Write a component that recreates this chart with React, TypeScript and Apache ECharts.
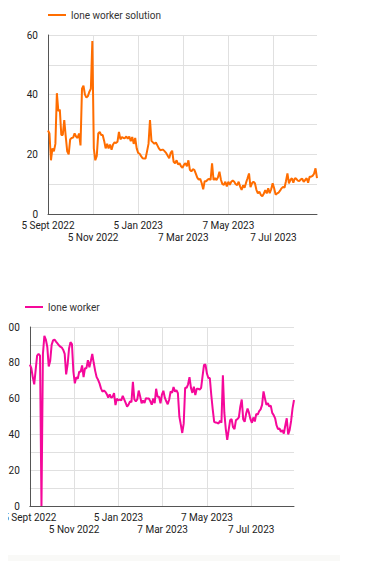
import React, { useEffect, useRef } from 'react';
import * as echarts from 'echarts';

const START_UTC = Date.UTC(2022, 8, 5);
const DAY_COUNT = 365;
const SAMPLE_STEP = 2;
const LABEL_EVERY = 61;
const MONTHS = ['Jan', 'Feb', 'Mar', 'Apr', 'May', 'Jun', 'Jul', 'Aug', 'Sept', 'Oct', 'Nov', 'Dec'];

const solutionName = 'lone worker solution';
const workerName = 'lone worker';
const solutionMax = 60;
const workerMax = 100;
const yMinorStep = 10;
const yLabelStep = 20;

// lone worker solution, one value every 2 days from 5 Sept 2022
const solutionValues = [
  28, 27, 18, 22, 21, 23.5, 40.5, 34.5, 35, 26.5,
  26.5, 31.5, 26, 21, 20, 25, 25.5, 25.6, 27, 26,
  25.5, 27, 23, 42, 43, 40, 39, 39.5, 41, 42,
  58, 22, 18, 19.5, 27, 27.5, 26.5, 26.5, 24.5, 22,
  23.5, 22, 23.3, 21.5, 23.3, 24, 23.8, 24.2, 27.5, 25,
  25.8, 25.5, 25.4, 26, 25.2, 26, 24.4, 25.8, 23.5, 25.5,
  22, 20.5, 20.2, 19.4, 18.7, 18.6, 18.6, 21, 23.5, 31.5,
  24.5, 24, 23.5, 24, 23, 22, 21.4, 21.5, 21.5, 21,
  20.4, 19.5, 18.7, 20.5, 21.2, 17.5, 17, 18, 16.6, 17,
  16, 15.5, 16.5, 17, 16, 18, 14.8, 14.3, 15, 14.8,
  13.5, 12.2, 11.5, 11.8, 10.3, 8.3, 11, 11, 11.5, 11.8,
  11.4, 17, 11.4, 12, 11.4, 12.3, 14.2, 11.5, 10, 9.8,
  10.8, 9.2, 10.8, 9.8, 10.8, 11.2, 10.8, 10, 9.7, 10.8,
  9.2, 8.1, 9.6, 8.8, 10.5, 12, 13.6, 9, 10.3, 10.8,
  10.3, 8.1, 6.9, 7.5, 6.4, 6, 6.8, 8, 6.9, 8.6,
  7, 8.3, 10.3, 8.6, 6.5, 6.9, 7.2, 7.8, 8.6, 9.1,
  8.8, 11, 13.6, 10.3, 11.4, 12, 10.5, 12, 11.8, 11.2,
  11, 11.6, 11.8, 10.8, 11.4, 12, 10.5, 12.5, 12.5, 12.8,
  13.5, 15.3, 12,
];

// lone worker, one value every 2 days from 5 Sept 2022
const workerValues = [
  79, 77, 72, 68, 76, 84, 85, 84, 0, 85,
  95, 93, 89, 78, 81, 90, 92.5, 93, 91.8, 90.8,
  89.8, 89, 88.5, 87.2, 85, 73.5, 79, 88, 91.5, 90.5,
  75, 68.5, 72, 71, 75, 75, 78.5, 72, 77, 77,
  81.5, 77.5, 81, 85, 80, 75.5, 72, 70.5, 68.5, 65.7,
  63.9, 64.5, 63.8, 62.5, 60.6, 62.4, 60.6, 61, 63, 56.4,
  60, 59, 59.5, 59, 61.5, 59.6, 57.6, 55.5, 56.6, 58.5,
  58, 69.4, 59.5, 58.5, 59.5, 64.5, 61.2, 57.4, 59, 57.6,
  60.3, 60, 60, 58.5, 56.6, 60, 57.4, 65.5, 61, 61,
  57.4, 62.2, 64.4, 60.5, 58.5, 56.8, 59.5, 64, 63.3, 66.5,
  63.9, 64.7, 63, 50, 45.5, 40.8, 46, 66, 66, 68,
  72, 66, 63.2, 66.7, 62, 65.5, 65.5, 65, 66, 72.5,
  78.8, 79, 74, 71.5, 71.5, 62, 54, 47, 46.6, 46.5,
  46, 47.6, 46.5, 73, 52, 43, 37, 42.5, 48, 48.5,
  44, 43, 48, 48.5, 49.5, 55.5, 59.5, 48.5, 47, 51.5,
  54.5, 52, 48.5, 46.5, 49.5, 47.2, 51.5, 51, 53, 54,
  56.5, 64, 60, 56.5, 57.4, 55.6, 56, 52, 50.8, 49,
  45, 43, 43.3, 41.5, 42.3, 40.5, 45, 49, 40, 42.5,
  47.5, 54.5, 59.2,
];

const dayLabels: string[] = Array.from({ length: DAY_COUNT }, (_, i) => {
  const d = new Date(START_UTC + i * 86400000);
  return `${d.getUTCDate()} ${MONTHS[d.getUTCMonth()]} ${d.getUTCFullYear()}`;
});

const FONT = 'Roboto, Arial, sans-serif';
const LABEL_STYLE = { fontSize: 10, color: '#222', fontFamily: FONT };

function makeOption(name: string, values: number[], color: string, max: number, legendTop: number, gridTop: number, gridLeft: number) {
  return {
    animation: false,
    textStyle: { fontFamily: FONT },
    legend: {
      left: gridLeft,
      top: legendTop,
      padding: 0,
      itemWidth: 18,
      itemHeight: 2,
      data: [{ name, icon: 'rect' }],
      textStyle: { fontSize: 10, color: '#333', fontFamily: FONT },
    },
    grid: { left: gridLeft, top: gridTop, width: 269, height: 179, containLabel: false },
    xAxis: [
      {
        type: 'category',
        data: dayLabels,
        boundaryGap: false,
        position: 'bottom',
        axisLine: { show: true, lineStyle: { color: '#555', width: 1 } },
        axisTick: { show: false },
        axisLabel: {
          ...LABEL_STYLE,
          margin: 6,
          interval: (i: number) => i % (2 * LABEL_EVERY) === 0,
        },
        splitLine: { show: true, interval: LABEL_EVERY - 1, lineStyle: { color: '#e0e0e0', width: 1 } },
      },
      {
        type: 'category',
        data: dayLabels,
        boundaryGap: false,
        position: 'bottom',
        axisLine: { show: false },
        axisTick: { show: false },
        splitLine: { show: false },
        axisLabel: {
          ...LABEL_STYLE,
          margin: 18,
          interval: (i: number) => i % (2 * LABEL_EVERY) === LABEL_EVERY,
        },
      },
    ],
    yAxis: {
      type: 'value',
      min: 0,
      max,
      interval: yMinorStep,
      axisLine: { show: true, lineStyle: { color: '#555', width: 1 } },
      axisTick: { show: false },
      axisLabel: {
        ...LABEL_STYLE,
        margin: 10,
        formatter: (v: number) => (v % yLabelStep === 0 ? String(v) : ''),
      },
      splitLine: { show: true, lineStyle: { color: '#e0e0e0', width: 1 } },
    },
    series: [
      {
        name,
        type: 'line',
        xAxisIndex: 0,
        symbol: 'none',
        color,
        lineStyle: { color, width: 2 },
        data: values.map((v, i) => [i * SAMPLE_STEP, v]),
      },
    ],
  };
}

function Chart({ option, style }: { option: any; style: React.CSSProperties }) {
  const ref = useRef<HTMLDivElement>(null);
  useEffect(() => {
    if (!ref.current) return;
    const chart = echarts.init(ref.current, undefined, { renderer: 'svg' });
    chart.setOption(option);
    return () => chart.dispose();
  }, [option]);
  return <div ref={ref} style={style} />;
}

const topOption = makeOption(solutionName, solutionValues, '#ff6d00', solutionMax, 10, 35, 48);
const bottomOption = makeOption(workerName, workerValues, '#f5089a', workerMax, 32, 57, 25);

export default function App() {
  return (
    <div>
      <Chart option={topOption} style={{ position: 'absolute', left: 0, top: 0, width: 375, height: 265 }} />
      <div style={{ position: 'absolute', left: 8, top: 270, width: 367, height: 280, overflow: 'hidden' }}>
        <Chart option={bottomOption} style={{ position: 'absolute', left: -8, top: 0, width: 375, height: 280 }} />
      </div>
      <div style={{ position: 'absolute', left: 8, top: 555, width: 332, height: 6, background: '#f9f9f7' }} />
    </div>
  );
}
